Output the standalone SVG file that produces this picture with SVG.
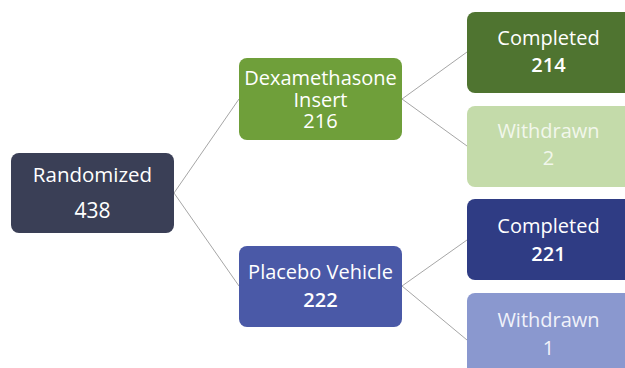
<svg xmlns="http://www.w3.org/2000/svg" width="625" height="368" viewBox="0 0 625 368">
<style>
.box{stroke:none}
.t{font-family:"Open Sans","DejaVu Sans",sans-serif;font-size:20px;fill:#ffffff;text-anchor:middle}
.n{font-weight:600}
.c{stroke:#a6a6a6;stroke-width:1;fill:none}
</style>
<rect width="625" height="368" fill="#ffffff"/>
<g id="connectors">
<line class="c" x1="174" y1="193" x2="239" y2="99"/>
<line class="c" x1="174" y1="193" x2="239" y2="286"/>
<line class="c" x1="402" y1="99" x2="467" y2="52"/>
<line class="c" x1="402" y1="99" x2="467" y2="146"/>
<line class="c" x1="402" y1="286" x2="467" y2="240"/>
<line class="c" x1="402" y1="286" x2="467" y2="340"/>
</g>
<g id="randomized">
<rect class="box" x="11" y="153" width="163" height="80" rx="8" fill="#3a3f56"/>
<text class="t" x="92.5" y="182" style="font-size:20.5px">Randomized</text>
<text class="t" x="92.5" y="218" style="font-size:21px;font-weight:500">438</text>
</g>
<g id="dexamethasone">
<rect class="box" x="239" y="58" width="163" height="82" rx="8" fill="#6f9f3a"/>
<text class="t" x="320.5" y="85">Dexamethasone</text>
<text class="t" x="320.5" y="106.5">Insert</text>
<text class="t" x="320.5" y="128" style="font-weight:500">216</text>
</g>
<g id="placebo">
<rect class="box" x="239" y="246" width="163" height="81" rx="8" fill="#4a59a7"/>
<text class="t" x="320.5" y="279">Placebo Vehicle</text>
<text class="t n" x="320.5" y="307">222</text>
</g>
<g id="dex-completed">
<rect class="box" x="467" y="12" width="170" height="81" rx="8" fill="#4f7430"/>
<text class="t" x="548.5" y="45">Completed</text>
<text class="t n" x="548.5" y="72">214</text>
</g>
<g id="dex-withdrawn">
<rect class="box" x="467" y="106" width="170" height="81" rx="8" fill="#c4dbaa"/>
<text class="t" x="548.5" y="138" style="fill:#f2f7ec">Withdrawn</text>
<text class="t" x="548.5" y="165" style="fill:#f2f7ec">2</text>
</g>
<g id="pla-completed">
<rect class="box" x="467" y="199" width="170" height="81" rx="8" fill="#2f3c84"/>
<text class="t" x="548.5" y="233">Completed</text>
<text class="t n" x="548.5" y="261">221</text>
</g>
<g id="pla-withdrawn">
<rect class="box" x="467" y="293" width="170" height="90" rx="8" fill="#8a98cf"/>
<text class="t" x="548.5" y="327" style="fill:#f0f2fa">Withdrawn</text>
<text class="t" x="548.5" y="355" style="fill:#f0f2fa">1</text>
</g>
</svg>
